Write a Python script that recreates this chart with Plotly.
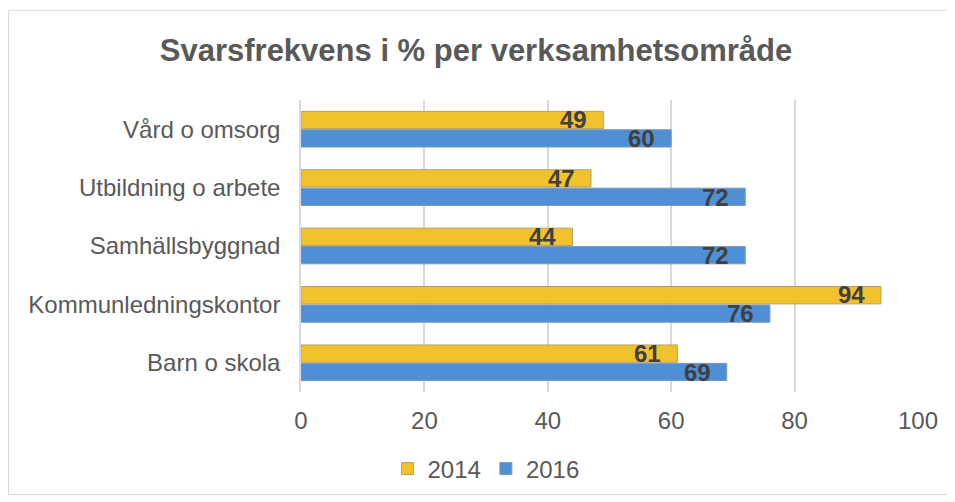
import plotly.graph_objects as go

categories = ["Barn o skola", "Kommunledningskontor", "Samhällsbyggnad",
              "Utbildning o arbete", "Vård o omsorg"]
values_2014 = [61, 94, 44, 47, 49]
values_2016 = [69, 76, 72, 72, 60]
x_ticks = [0, 20, 40, 60, 80, 100]

# page body has an 8px margin, so figure coords = screen coords - 8
W, H = 947, 494
ml, mr, mt, mb = 293, 37, 92, 109
pw, ph = W - ml - mr, H - mt - mb

FONT = "Liberation Sans, Arial, sans-serif"

fig = go.Figure()
fig.add_trace(go.Bar(
    y=categories, x=values_2016, orientation="h", name="2016",
    marker=dict(color="#4E8FD6", line=dict(color="#8098B5", width=1)),
    legendrank=2, hoverinfo="x+name",
))
fig.add_trace(go.Bar(
    y=categories, x=values_2014, orientation="h", name="2014",
    marker=dict(color="#F2C22C", line=dict(color="#B59E6C", width=1)),
    legendrank=1, hoverinfo="x+name",
))

for vals, shift in ((values_2014, 9.5), (values_2016, -9.5)):
    for cat, v in zip(categories, vals):
        fig.add_annotation(x=v, y=cat, xref="x", yref="y", text=f"<b>{v}</b>",
                           showarrow=False, xanchor="right", yanchor="middle",
                           xshift=-14, yshift=shift,
                           font=dict(family=FONT, size=24, color="#404040"))

def px_x(p):
    return (p - ml) / pw

def px_y(p):
    return (H - mb - p) / ph

fig.add_shape(type="rect", xref="paper", yref="paper",
              x0=px_x(0.5), x1=px_x(942),
              y0=px_y(488), y1=px_y(2),
              line=dict(color="#D9D9D9", width=1), fillcolor="rgba(0,0,0,0)", layer="below")

fig.update_layout(
    width=W, height=H,
    margin=dict(l=ml, r=mr, t=mt, b=mb),
    paper_bgcolor="white", plot_bgcolor="white",
    barmode="group", bargap=0.37, bargroupgap=0.06,
    title=dict(text="<b>Svarsfrekvens i % per verksamhetsområde</b>",
               x=(476 - 8) / W, xref="container", xanchor="center",
               y=1 - 42 / H, yanchor="middle",
               font=dict(family=FONT, size=31, color="#595959")),
    font=dict(family=FONT, color="#595959"),
    xaxis=dict(range=[0, 100], tickvals=x_ticks, showgrid=True, gridcolor="#D9D9D9",
               gridwidth=1.5, zeroline=False, showline=False,
               tickfont=dict(size=24, color="#595959"), ticks="", ticklabelstandoff=12),
    yaxis=dict(showline=True, linecolor="#D9D9D9", linewidth=1.5, ticks="",
               tickfont=dict(size=24, color="#595959"), ticklabelstandoff=14),
    legend=dict(orientation="h", x=px_x(478), xanchor="center",
                y=px_y(461), yanchor="middle",
                font=dict(size=24, color="#595959"), itemwidth=30,
                tracegroupgap=0),
    showlegend=True,
)

fig.write_html("out.html")
